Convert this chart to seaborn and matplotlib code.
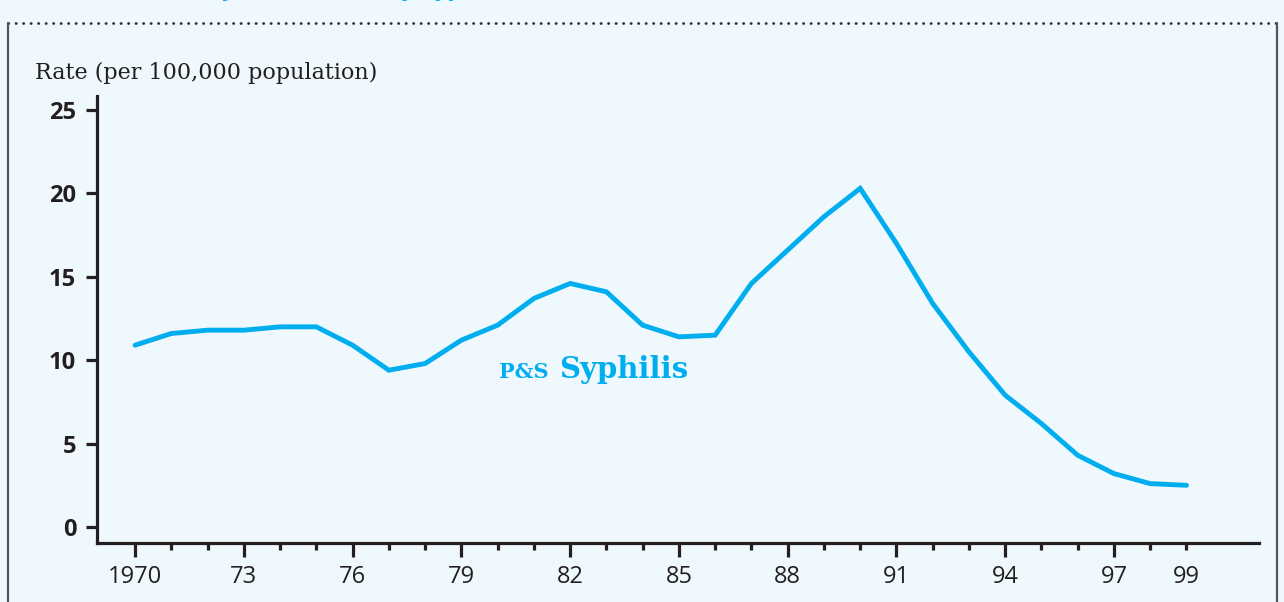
import matplotlib
matplotlib.use('Agg')
import matplotlib.pyplot as plt
import seaborn as sns
from matplotlib.lines import Line2D

# P&S syphilis rate per 100,000 population
years = list(range(1970, 2000))
rates = [10.9, 11.6, 11.8, 11.8, 12.0, 12.0, 10.9, 9.4, 9.8, 11.2,
         12.1, 13.7, 14.6, 14.1, 12.1, 11.4, 11.5, 14.6, 16.6, 18.6,
         20.3, 17.0, 13.4, 10.5, 7.9, 6.2, 4.3, 3.2, 2.6, 2.5]

major_years = [1970, 1973, 1976, 1979, 1982, 1985, 1988, 1991, 1994, 1997]
major_labels = ['1970', '73', '76', '79', '82', '85', '88', '91', '94', '97']
yticks = [0, 5, 10, 15, 20, 25]

bg = '#eff8fd'
cyan = '#00aeef'
ink = '#231f20'

sns.set_style('ticks')
plt.rcParams['font.family'] = ['Open Sans', 'DejaVu Sans']

fig = plt.figure(figsize=(12.84, 6.02), dpi=100, facecolor=bg)
ax = fig.add_axes([97/1284, 59/602, (1259-97)/1284, (543-96)/602])
ax.set_facecolor(bg)

sns.lineplot(x=years, y=rates, ax=ax, color=cyan, linewidth=3.5,
             solid_capstyle='round', solid_joinstyle='miter')

ax.set_xlim(1968.95, 2001.0)
ax.set_ylim(-0.96, 25.84)

for s in ['top', 'right']:
    ax.spines[s].set_visible(False)
for s in ['left', 'bottom']:
    ax.spines[s].set_color(ink)
    ax.spines[s].set_linewidth(2.3)

ax.set_yticks(yticks)
ax.set_yticklabels([str(v) for v in yticks], fontsize=17, fontweight='bold', color=ink)
ax.tick_params(axis='y', length=8, width=2.3, color=ink, pad=7)

minor_years = [y for y in years if y not in major_years]
minor_labels = ['99' if y == 1999 else '' for y in minor_years]
ax.set_xticks(major_years)
ax.set_xticklabels(major_labels, fontsize=17, color=ink)
ax.set_xticks(minor_years, labels=minor_labels, minor=True, fontsize=17, color=ink)
ax.tick_params(axis='x', which='major', length=10, width=2.3, color=ink, pad=6)
ax.tick_params(axis='x', which='minor', length=5, width=2.3, color=ink, pad=11)
ax.set_xlabel('')
ax.set_ylabel('')

# series label
ax.text(1980.05, 8.95, 'P&S', color=cyan, fontsize=15, fontweight='bold',
        family='DejaVu Serif', va='baseline', ha='left')
ax.text(1981.7, 8.95, 'Syphilis', color=cyan, fontsize=21, fontweight='bold',
        family='DejaVu Serif', va='baseline', ha='left')

fig.text(35/1284, 1 - 79/602, 'Rate (per 100,000 population)', family='DejaVu Serif',
         fontsize=16, color=ink, va='baseline', ha='left')

# clipped title from the page above
fig.text(142/1284, 1 + 3/602, 'Primary and secondary syphilis', family='DejaVu Sans',
         fontsize=15, fontweight='bold', color=cyan, va='baseline', ha='left')

# frame: dotted rule and side borders
fig.add_artist(Line2D([8/1284, 1277/1284], [1 - 23/602, 1 - 23/602], transform=fig.transFigure,
                      color='#333333', linewidth=2, linestyle=(0, (0.1, 2.6)),
                      dash_capstyle='round'))
for xb in [8, 1277]:
    fig.add_artist(Line2D([xb/1284, xb/1284], [0, 1 - 23/602], transform=fig.transFigure,
                          color='#555555', linewidth=1.6))

fig.savefig('out.png', dpi=100, facecolor=bg)
